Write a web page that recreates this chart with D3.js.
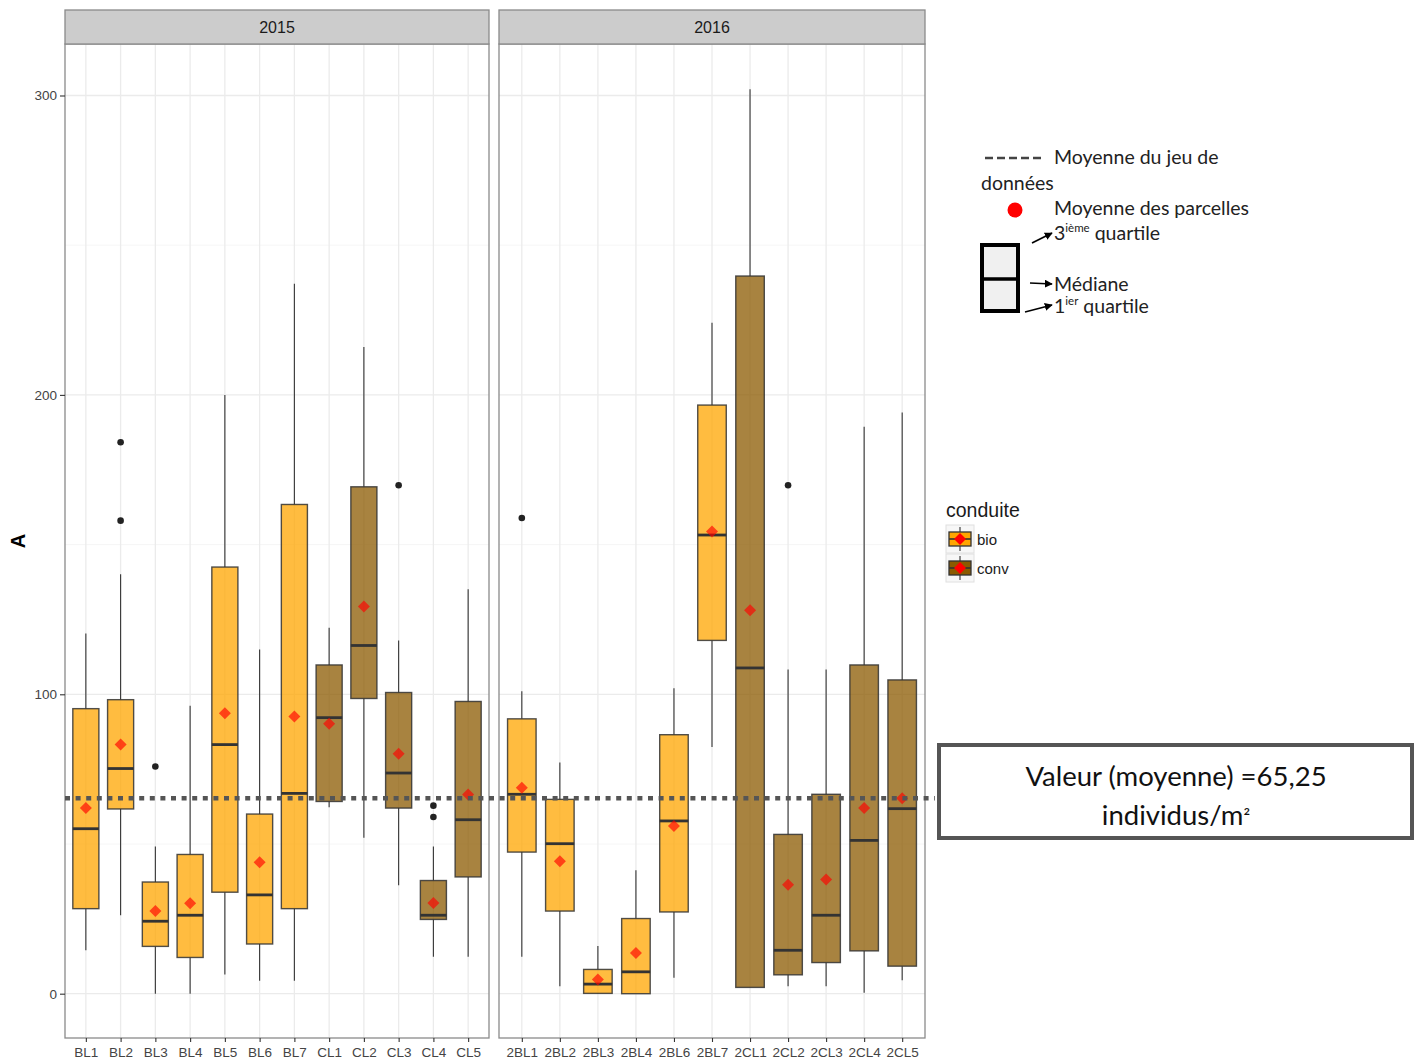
<!DOCTYPE html>
<html>
<head>
<meta charset="utf-8">
<script src="https://cdn.jsdelivr.net/npm/d3@7/dist/d3.min.js"></script>
<style>
  html, body { margin: 0; padding: 0; background: #ffffff; }
  svg { display: block; }
</style>
</head>
<body>
<svg id="chart" width="1418" height="1061"></svg>
<script>
// ---- Data: plot-level box statistics, one facet per year ----
const years = ["2015", "2016"];

const cats2015 = ["BL1","BL2","BL3","BL4","BL5","BL6","BL7","CL1","CL2","CL3","CL4","CL5"];
const cond2015 = ["bio","bio","bio","bio","bio","bio","bio","conv","conv","conv","conv","conv"];
const low2015  = [14.5, 26.2, 0,    0,    6.4,  4.3,  4.3,  62.3, 52.1, 36.2, 12.3, 12.3];
const q1_2015  = [28.4, 61.7, 15.8, 12.1, 33.9, 16.6, 28.4, 64.2, 98.6, 62.0, 24.8, 39.0];
const med2015  = [55.1, 75.2, 24.2, 26.2, 83.2, 33.0, 66.9, 92.2, 116.3, 73.7, 26.2, 58.1];
const q3_2015  = [95.2, 98.2, 37.3, 46.5, 142.5, 60.0, 163.4, 109.8, 169.3, 100.6, 37.8, 97.6];
const high2015 = [120.3, 140.1, 49.2, 96.2, 200.0, 115.0, 237.1, 122.2, 216.0, 118.0, 49.2, 135.1];
const mean2015 = [62.0, 83.2, 27.6, 30.2, 93.7, 43.9, 92.6, 90.2, 129.3, 80.1, 30.3, 66.5];
const out2015  = [["BL2", 184.2], ["BL2", 158.0], ["BL3", 75.9], ["CL3", 169.8], ["CL4", 62.8], ["CL4", 59.0]];

const cats2016 = ["2BL1","2BL2","2BL3","2BL4","2BL6","2BL7","2CL1","2CL2","2CL3","2CL4","2CL5"];
const cond2016 = ["bio","bio","bio","bio","bio","bio","conv","conv","conv","conv","conv"];
const low2016  = [12.3, 2.5,  0,    0,    5.3,  82.4,  2.1,   2.5,   2.5,   0.3,   4.5];
const q1_2016  = [47.3, 27.6, 0.1,  0,    27.3, 118.0, 2.1,   6.3,   10.4,  14.3,  9.2];
const med2016  = [66.6, 50.1, 3.2,  7.3,  57.7, 153.2, 108.8, 14.5,  26.2,  51.2,  61.8];
const q3_2016  = [91.8, 64.9, 8.1,  25.1, 86.5, 196.6, 239.7, 53.2,  66.6,  109.8, 104.8];
const high2016 = [101.0, 77.2, 15.9, 41.2, 102.0, 224.1, 302.1, 108.3, 108.3, 189.4, 194.1];
const mean2016 = [68.8, 44.2, 4.7,  13.6, 56.0, 154.4, 128.1, 36.4,  38.1,  62.0,  65.3];
const out2016  = [["2BL1", 158.9], ["2CL2", 169.8]];

const yTicks = [0, 100, 200, 300];
const yMinor = [50, 150, 250];
const grandMean = 65.25;

const conduites = ["bio", "conv"];
const condColors = ["#ffa500", "#8b5a00"];

// ---- Layout ----
const svg = d3.select("#chart");
const plotTop = 44, plotBottom = 1038, stripTop = 10;
const panels = [
  { year: years[0], x0: 65,  x1: 489, cats: cats2015, cond: cond2015, low: low2015, q1: q1_2015, med: med2015, q3: q3_2015, high: high2015, mean: mean2015, out: out2015 },
  { year: years[1], x0: 499, x1: 925, cats: cats2016, cond: cond2016, low: low2016, q1: q1_2016, med: med2016, q3: q3_2016, high: high2016, mean: mean2016, out: out2016 }
];

const y = d3.scaleLinear().domain([-14.8, 317.2]).range([plotBottom, plotTop]);
const fill = d3.scaleOrdinal().domain(conduites).range(condColors);
const font = "'Liberation Sans', Arial, sans-serif";

panels.forEach((p, pi) => {
  const x = d3.scalePoint().domain(p.cats).range([p.x0, p.x1]).padding(0.6);
  const bw = x.step() * 0.75;
  const g = svg.append("g");

  // panel background and grid
  g.append("rect").attr("x", p.x0).attr("y", plotTop).attr("width", p.x1 - p.x0).attr("height", plotBottom - plotTop).attr("fill", "#fff");
  g.selectAll(".minor").data(yMinor).join("line")
    .attr("x1", p.x0).attr("x2", p.x1).attr("y1", d => y(d)).attr("y2", d => y(d))
    .attr("stroke", "#f4f4f4").attr("stroke-width", 0.8);
  g.selectAll(".major").data(yTicks).join("line")
    .attr("x1", p.x0).attr("x2", p.x1).attr("y1", d => y(d)).attr("y2", d => y(d))
    .attr("stroke", "#ebebeb").attr("stroke-width", 1.3);
  g.selectAll(".vgrid").data(p.cats).join("line")
    .attr("x1", d => x(d)).attr("x2", d => x(d)).attr("y1", plotTop).attr("y2", plotBottom)
    .attr("stroke", "#ebebeb").attr("stroke-width", 1.3);

  const rows = p.cats.map((c, i) => ({ c, cond: p.cond[i], low: p.low[i], q1: p.q1[i], med: p.med[i], q3: p.q3[i], high: p.high[i], mean: p.mean[i] }));

  // whiskers
  g.selectAll(".wh").data(rows).join("line")
    .attr("x1", d => x(d.c)).attr("x2", d => x(d.c))
    .attr("y1", d => y(d.high)).attr("y2", d => y(d.q3))
    .attr("stroke", "#333").attr("stroke-width", 1.1);
  g.selectAll(".wl").data(rows).join("line")
    .attr("x1", d => x(d.c)).attr("x2", d => x(d.c))
    .attr("y1", d => y(d.q1)).attr("y2", d => y(d.low))
    .attr("stroke", "#333").attr("stroke-width", 1.1);

  // boxes
  g.selectAll(".box").data(rows).join("rect")
    .attr("x", d => x(d.c) - bw / 2).attr("width", bw)
    .attr("y", d => y(d.q3)).attr("height", d => y(d.q1) - y(d.q3))
    .attr("fill", d => fill(d.cond)).attr("fill-opacity", 0.75)
    .attr("stroke", "#333").attr("stroke-opacity", 0.85).attr("stroke-width", 1.4);

  // medians
  g.selectAll(".med").data(rows).join("line")
    .attr("x1", d => x(d.c) - bw / 2).attr("x2", d => x(d.c) + bw / 2)
    .attr("y1", d => y(d.med)).attr("y2", d => y(d.med))
    .attr("stroke", "#333").attr("stroke-width", 2.8);

  // outliers
  g.selectAll(".out").data(p.out).join("circle")
    .attr("cx", d => x(d[0])).attr("cy", d => y(d[1])).attr("r", 3.3)
    .attr("fill", "#222");

  // means (diamonds)
  g.selectAll(".mean").data(rows).join("path")
    .attr("transform", d => `translate(${x(d.c)},${y(d.mean)})`)
    .attr("d", "M0,-6L6,0L0,6L-6,0Z")
    .attr("fill", "#ff0000").attr("fill-opacity", 0.65);

  // panel border
  g.append("rect").attr("x", p.x0).attr("y", plotTop).attr("width", p.x1 - p.x0).attr("height", plotBottom - plotTop)
    .attr("fill", "none").attr("stroke", "#8a8a8a").attr("stroke-width", 1.3);

  // strip
  g.append("rect").attr("x", p.x0).attr("y", stripTop).attr("width", p.x1 - p.x0).attr("height", plotTop - stripTop)
    .attr("fill", "#cccccc").attr("stroke", "#8a8a8a").attr("stroke-width", 1.3);
  g.append("text").attr("x", (p.x0 + p.x1) / 2).attr("y", (stripTop + plotTop) / 2 + 6)
    .attr("text-anchor", "middle").attr("font-family", font).attr("font-size", 16).attr("fill", "#1a1a1a")
    .text(p.year);

  // x axis
  const xa = svg.append("g").attr("transform", `translate(0,${plotBottom})`)
    .call(d3.axisBottom(x).tickSize(4).tickPadding(5));
  xa.select(".domain").remove();
  xa.selectAll(".tick line").attr("stroke", "#333").attr("stroke-width", 1.1);
  xa.selectAll(".tick text").attr("font-family", font).attr("font-size", 13.5).attr("fill", "#444");

  if (pi === 0) {
    const ya = svg.append("g").attr("transform", `translate(${p.x0},0)`)
      .call(d3.axisLeft(y).tickValues(yTicks).tickSize(5).tickPadding(3));
    ya.select(".domain").remove();
    ya.selectAll(".tick line").attr("stroke", "#333").attr("stroke-width", 1.1);
    ya.selectAll(".tick text").attr("font-family", font).attr("font-size", 13.5).attr("fill", "#444");
  }
});

// y axis title
svg.append("text").attr("transform", "translate(25,541) rotate(-90)")
  .attr("text-anchor", "middle").attr("font-family", font).attr("font-size", 20).attr("font-weight", "bold")
  .attr("fill", "#000").text("A");

// overall mean line across both panels
svg.append("line")
  .attr("x1", 65).attr("x2", 935).attr("y1", y(grandMean)).attr("y2", y(grandMean))
  .attr("stroke", "#555").attr("stroke-width", 4.5).attr("stroke-dasharray", "5 5.6");

// ---- conduite legend ----
const lg = svg.append("g").attr("transform", "translate(946,0)");
lg.append("text").attr("x", 0).attr("y", 517).attr("font-family", font).attr("font-size", 19.5).attr("fill", "#1a1a1a").text("conduite");
conduites.forEach((c, i) => {
  const ky = 525 + i * 29;
  const k = lg.append("g").attr("transform", `translate(0,${ky})`);
  k.append("rect").attr("x", 0).attr("y", 0).attr("width", 28).attr("height", 28).attr("fill", "#f7f7f7").attr("stroke", "#e0e0e0");
  k.append("line").attr("x1", 14).attr("x2", 14).attr("y1", 2).attr("y2", 26).attr("stroke", "#333").attr("stroke-width", 1.1);
  k.append("rect").attr("x", 3).attr("y", 7).attr("width", 22).attr("height", 14)
    .attr("fill", fill(c)).attr("stroke", "#333").attr("stroke-width", 1.3);
  k.append("line").attr("x1", 3).attr("x2", 25).attr("y1", 14).attr("y2", 14).attr("stroke", "#333").attr("stroke-width", 1.6);
  k.append("path").attr("transform", "translate(14,14)").attr("d", "M0,-6L6,0L0,6L-6,0Z").attr("fill", "#ff0000");
  lg.append("text").attr("x", 31).attr("y", ky + 20).attr("font-family", font).attr("font-size", 15).attr("fill", "#1a1a1a").text(c);
});

// ---- reading guide (box anatomy) ----
const noteFont = "Lato, 'Open Sans', sans-serif";
const ng = svg.append("g").attr("font-family", noteFont).attr("font-size", 19.5).attr("fill", "#222");
ng.append("line").attr("x1", 985).attr("x2", 1043).attr("y1", 158).attr("y2", 158)
  .attr("stroke", "#444").attr("stroke-width", 2.4).attr("stroke-dasharray", "8 4");
ng.append("text").attr("x", 1054).attr("y", 164).text("Moyenne du jeu de");
ng.append("text").attr("x", 981).attr("y", 190).text("données");
ng.append("circle").attr("cx", 1015).attr("cy", 210).attr("r", 7.5).attr("fill", "#ff0000");
ng.append("text").attr("x", 1054).attr("y", 215).text("Moyenne des parcelles");
const q3t = ng.append("text").attr("x", 1054).attr("y", 240);
q3t.append("tspan").text("3");
q3t.append("tspan").attr("font-size", 11.5).attr("dy", -8).text("ième");
q3t.append("tspan").attr("dy", 8).text(" quartile");
ng.append("text").attr("x", 1054).attr("y", 291).text("Médiane");
const q1t = ng.append("text").attr("x", 1054).attr("y", 313);
q1t.append("tspan").text("1");
q1t.append("tspan").attr("font-size", 11.5).attr("dy", -8).text("ier");
q1t.append("tspan").attr("dy", 8).text(" quartile");
ng.append("rect").attr("x", 982).attr("y", 245).attr("width", 36).attr("height", 66)
  .attr("fill", "#f0f0f0").attr("stroke", "#000").attr("stroke-width", 4);
ng.append("line").attr("x1", 982).attr("x2", 1018).attr("y1", 279).attr("y2", 279).attr("stroke", "#000").attr("stroke-width", 3.5);

svg.append("defs").append("marker").attr("id", "arr").attr("viewBox", "0 0 10 10")
  .attr("refX", 9).attr("refY", 5).attr("markerWidth", 5).attr("markerHeight", 5).attr("orient", "auto")
  .append("path").attr("d", "M0,0L10,5L0,10Z").attr("fill", "#000");
[[1032, 243, 1052, 233], [1030, 283, 1052, 284], [1025, 312, 1052, 305]].forEach(a => {
  ng.append("line").attr("x1", a[0]).attr("y1", a[1]).attr("x2", a[2]).attr("y2", a[3])
    .attr("stroke", "#000").attr("stroke-width", 1.6).attr("marker-end", "url(#arr)");
});

// ---- value call-out ----
svg.append("rect").attr("x", 939).attr("y", 745).attr("width", 473).attr("height", 93)
  .attr("fill", "#fff").attr("stroke", "#555").attr("stroke-width", 4);
svg.append("text").attr("x", 1176).attr("y", 786).attr("text-anchor", "middle")
  .attr("font-family", noteFont).attr("font-size", 27.5).attr("fill", "#111").text("Valeur (moyenne) =65,25");
const unit = svg.append("text").attr("x", 1176).attr("y", 825).attr("text-anchor", "middle")
  .attr("font-family", noteFont).attr("font-size", 27.5).attr("fill", "#111");
unit.append("tspan").text("individus/m");
unit.append("tspan").attr("font-size", 20).text("²");
</script>
</body>
</html>
